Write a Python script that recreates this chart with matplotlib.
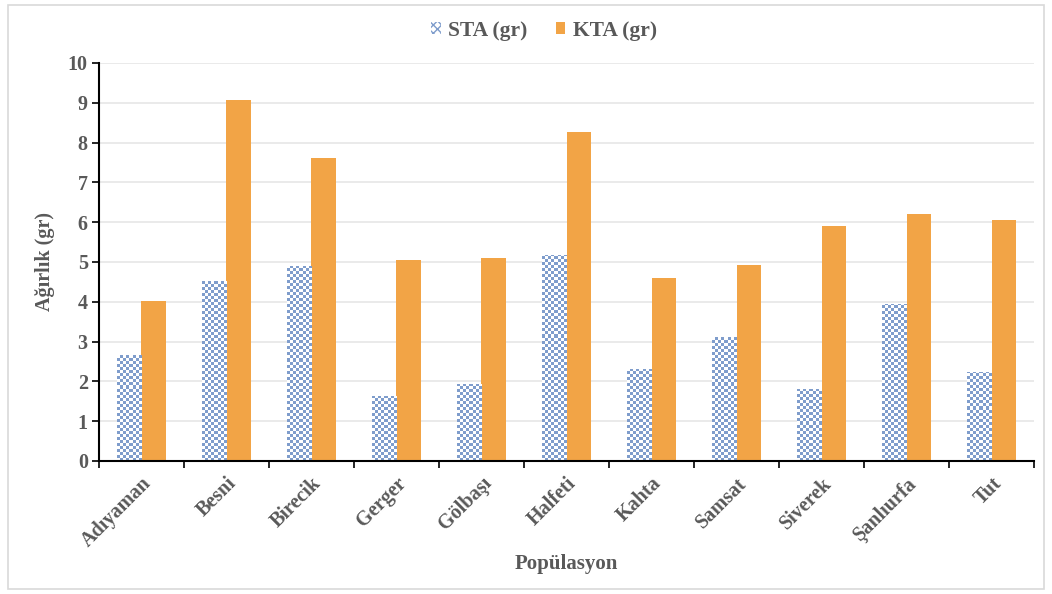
import numpy as np
import matplotlib.pyplot as plt
from matplotlib.patches import Rectangle, Patch

plt.rcParams['font.family'] = ['Liberation Serif', 'DejaVu Serif']
plt.rcParams['font.weight'] = 'bold'

populations = ['Adıyaman', 'Besni', 'Birecik', 'Gerger', 'Gölbaşı', 'Halfeti',
               'Kahta', 'Samsat', 'Siverek', 'Şanlıurfa', 'Tut']
sta = [2.67, 4.52, 4.90, 1.63, 1.93, 5.18, 2.31, 3.12, 1.81, 3.94, 2.24]
kta = [4.02, 9.07, 7.61, 5.05, 5.10, 8.27, 4.60, 4.92, 5.90, 6.21, 6.05]

blue = '#7f9dcc'
orange = '#f2a446'
grey = '#595959'

fig = plt.figure(figsize=(10.52, 5.94), dpi=100)
ax = fig.add_axes([0.094, 0.224, 0.889, 0.670])

# outer chart frame
fig.patches.append(Rectangle((0.008, 0.008), 0.984, 0.984, transform=fig.transFigure,
                             fill=False, edgecolor='#d9d9d9', lw=1.2))

x = np.arange(len(populations))
w = 0.29
sta_bars = ax.bar(x - w / 2, sta, w, color='white', edgecolor='none', zorder=2)
ax.bar(x + w / 2, kta, w, color=orange, edgecolor='none', zorder=2)

# checkerboard fill for STA bars, clipped to each bar
ax.set_xlim(-0.5, len(populations) - 0.5)
ax.set_ylim(0, 10)
cell = 3.0  # pixels per checker cell
px_x = 935 / len(populations)
px_y = 398 / 10
rgb = np.array([0x7f, 0x9d, 0xcc]) / 255
for b in sta_bars:
    x0, h = b.get_x(), b.get_height()
    nx = max(1, int(round(w * px_x / cell)))
    ny = max(1, int(np.ceil(h * px_y / cell)))
    chk = np.add.outer(np.arange(ny), np.arange(nx)) % 2
    img = np.ones((ny, nx, 3))
    img[chk == 1] = rgb
    im = ax.imshow(img, extent=[x0, x0 + w, 0, ny * cell / px_y], origin='lower',
                   aspect='auto', interpolation='nearest', zorder=2.5)
    im.set_clip_path(b)

ax.set_xlim(-0.5, len(populations) - 0.5)
ax.set_ylim(0, 10)
ax.set_yticks(range(11))
ax.yaxis.grid(True, color='#e6e6e6', lw=1.2, zorder=0)
ax.set_axisbelow(True)

ax.set_xticks(x)
ax.set_xticklabels(populations, rotation=45, ha='right', rotation_mode='anchor',
                   fontsize=14.5, color=grey, fontweight='bold')
ax.set_xticks(np.arange(-0.5, len(populations)), minor=True)
ax.tick_params(axis='x', which='major', length=0, pad=9)
ax.tick_params(axis='x', which='minor', length=5, width=1.2, color='black', direction='out')
ax.tick_params(axis='y', length=5, width=1.2, color='black', labelsize=14.5, labelcolor=grey, pad=3)
for lbl in ax.get_yticklabels():
    lbl.set_fontweight('bold')

for s in ['top', 'right']:
    ax.spines[s].set_visible(False)
ax.spines['left'].set_linewidth(1.5)
ax.spines['bottom'].set_linewidth(1.5)

ax.set_ylabel('Ağırlık (gr)', fontsize=14.5, color=grey, fontweight='bold', labelpad=9)
ax.set_xlabel('Popülasyon', fontsize=15, color=grey, fontweight='bold', labelpad=2)

plt.rcParams['hatch.color'] = blue
handles = [Patch(facecolor='white', edgecolor=blue, hatch='xxxx', lw=0),
           Patch(facecolor=orange, edgecolor='none')]
fig.legend(handles, ['STA (gr)', 'KTA (gr)'], loc='center', bbox_to_anchor=(0.517, 0.948),
           ncol=2, frameon=False, prop={'size': 15.5, 'weight': 'bold'}, labelcolor=grey,
           handlelength=0.45, handleheight=0.45, handletextpad=0.35, columnspacing=1.3)

fig.savefig('out.png', dpi=100)
